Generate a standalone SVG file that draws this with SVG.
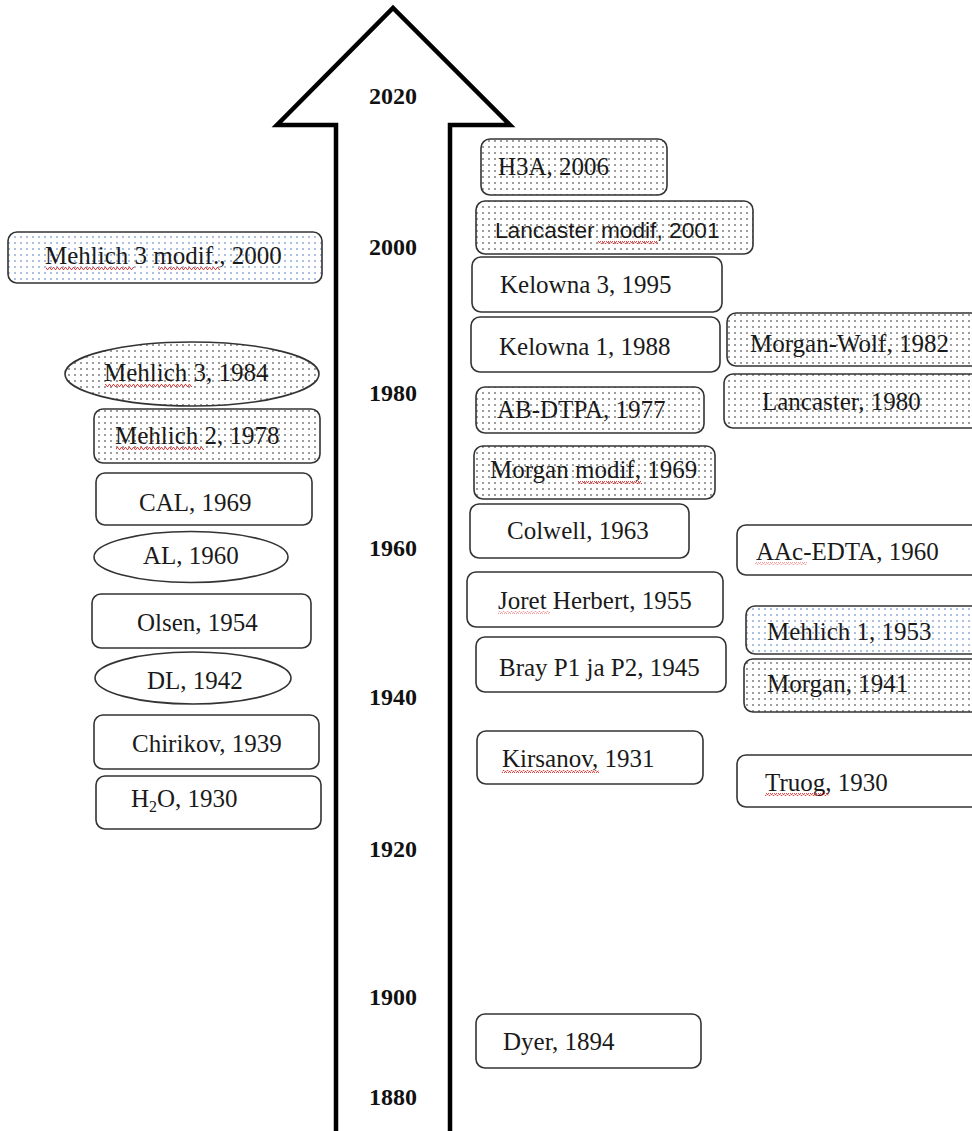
<svg xmlns="http://www.w3.org/2000/svg" width="972" height="1131" viewBox="0 0 972 1131">
<defs>
<pattern id="dotsK" width="6" height="6" patternUnits="userSpaceOnUse"><rect width="6" height="6" fill="#fff"/><circle cx="3" cy="3" r="0.8" fill="#222"/></pattern>
<pattern id="dotsB" width="6" height="6" patternUnits="userSpaceOnUse"><rect width="6" height="6" fill="#fff"/><circle cx="3" cy="3" r="0.8" fill="#4a72c0"/></pattern>
<pattern id="sq" width="4" height="3" patternUnits="userSpaceOnUse"><polyline points="0,2.5 1,0.5 2,0.5 3,2.5 4,2.5" fill="none" stroke="#e03030" stroke-width="0.9"/></pattern>
</defs>
<style>
.b{fill:#fff;stroke:#333;stroke-width:1.6}
.dk{fill:url(#dotsK);stroke:#333;stroke-width:1.6}
.db{fill:url(#dotsB);stroke:#333;stroke-width:1.6}
.t{font-family:"Liberation Serif","Times New Roman",serif;font-size:25px;fill:#1a1a1a}
.s{font-family:"Liberation Sans",Arial,sans-serif;font-size:22.7px;fill:#1a1a1a}
.y{font-family:"Liberation Serif","Times New Roman",serif;font-size:24px;font-weight:bold;fill:#111;text-anchor:middle}
.sq{fill:url(#sq)}
</style>
<rect width="972" height="1131" fill="#fff"/>
<g id="axis">
<path d="M336,1131 L336,125 L277,125 L393,8 L510,125 L450,125 L450,1131" fill="#fff" stroke="#000" stroke-width="4.5" stroke-linejoin="miter"/>
<text class="y" x="393" y="104">2020</text>
<text class="y" x="393" y="255">2000</text>
<text class="y" x="393" y="401">1980</text>
<text class="y" x="393" y="556">1960</text>
<text class="y" x="393" y="705">1940</text>
<text class="y" x="393" y="857">1920</text>
<text class="y" x="393" y="1005">1900</text>
<text class="y" x="393" y="1105">1880</text>
</g>
<g id="n-mehlich3modif"><rect class="db" x="8" y="232" width="314" height="51" rx="9"/><text class="t" x="45" y="264">Mehlich 3 modif., 2000</text></g>
<g id="n-mehlich3"><ellipse class="dk" cx="192" cy="374" rx="127" ry="32"/><text class="t" x="104" y="381">Mehlich 3, 1984</text></g>
<g id="n-mehlich2"><rect class="dk" x="94" y="409" width="226" height="54" rx="9"/><text class="t" x="115" y="444">Mehlich 2, 1978</text></g>
<g id="n-cal"><rect class="b" x="96" y="473" width="216" height="52" rx="9"/><text class="t" x="139" y="511">CAL, 1969</text></g>
<g id="n-al"><ellipse class="b" cx="191" cy="557" rx="97" ry="25.5"/><text class="t" x="143" y="564">AL, 1960</text></g>
<g id="n-olsen"><rect class="b" x="92" y="594" width="219" height="54" rx="9"/><text class="t" x="137" y="631">Olsen, 1954</text></g>
<g id="n-dl"><ellipse class="b" cx="193" cy="678" rx="98" ry="26"/><text class="t" x="147" y="689">DL, 1942</text></g>
<g id="n-chirikov"><rect class="b" x="94" y="715" width="225" height="54" rx="9"/><text class="t" x="132" y="752">Chirikov, 1939</text></g>
<g id="n-h2o"><rect class="b" x="96" y="776" width="225" height="53" rx="9"/><text class="t" x="131" y="807">H<tspan font-size="16" dy="5">2</tspan><tspan dy="-5">O, 1930</tspan></text></g>
<g id="n-h3a"><rect class="dk" x="481" y="139" width="186" height="56" rx="9"/><text class="t" x="498" y="175">H3A, 2006</text></g>
<g id="n-lancastermodif"><rect class="dk" x="476" y="201" width="277" height="53" rx="9"/><text class="s" x="495" y="238">Lancaster modif, 2001</text></g>
<g id="n-kelowna3"><rect class="b" x="472" y="257" width="250" height="55" rx="9"/><text class="t" x="500" y="293">Kelowna 3, 1995</text></g>
<g id="n-kelowna1"><rect class="b" x="471" y="317" width="249" height="55" rx="9"/><text class="t" x="499" y="355">Kelowna 1, 1988</text></g>
<g id="n-abdtpa"><rect class="dk" x="476" y="387" width="228" height="46" rx="9"/><text class="t" x="497" y="418">AB-DTPA, 1977</text></g>
<g id="n-morganmodif"><rect class="dk" x="474" y="446" width="241" height="53" rx="9"/><text class="t" x="490" y="478">Morgan modif, 1969</text></g>
<g id="n-colwell"><rect class="b" x="470" y="504" width="219" height="54" rx="9"/><text class="t" x="507" y="539">Colwell, 1963</text></g>
<g id="n-joret"><rect class="b" x="467" y="572" width="256" height="55" rx="9"/><text class="t" x="498" y="609">Joret Herbert, 1955</text></g>
<g id="n-bray"><rect class="b" x="476" y="637" width="250" height="55" rx="9"/><text class="t" x="499" y="676">Bray P1 ja P2, 1945</text></g>
<g id="n-kirsanov"><rect class="b" x="477" y="731" width="226" height="53" rx="9"/><text class="t" x="502" y="767">Kirsanov, 1931</text></g>
<g id="n-dyer"><rect class="b" x="476" y="1014" width="225" height="54" rx="9"/><text class="t" x="503" y="1050">Dyer, 1894</text></g>
<g id="n-morganwolf"><rect class="dk" x="727" y="313" width="255" height="53" rx="9"/><text class="t" x="750" y="352">Morgan-Wolf, 1982</text></g>
<g id="n-lancaster"><rect class="dk" x="724" y="374" width="258" height="54" rx="9"/><text class="t" x="762" y="410">Lancaster, 1980</text></g>
<g id="n-aacedta"><rect class="b" x="737" y="525" width="245" height="50" rx="9"/><text class="t" x="756" y="560">AAc-EDTA, 1960</text></g>
<g id="n-mehlich1"><rect class="db" x="746" y="606" width="236" height="48" rx="9"/><text class="t" x="767" y="640">Mehlich 1, 1953</text></g>
<g id="n-morgan"><rect class="dk" x="744" y="659" width="238" height="53" rx="9"/><text class="t" x="767" y="692">Morgan, 1941</text></g>
<g id="n-truog"><rect class="b" x="737" y="755" width="245" height="52" rx="9"/><text class="t" x="765" y="791">Truog, 1930</text></g>
<g id="spellcheck">
<rect class="sq" x="46" y="267" width="88" height="3"/>
<rect class="sq" x="158" y="267" width="62" height="3"/>
<rect class="sq" x="105" y="384" width="87" height="3"/>
<rect class="sq" x="116" y="447" width="88" height="3"/>
<rect class="sq" x="598" y="241" width="60" height="3"/>
<rect class="sq" x="578" y="481" width="64" height="3"/>
<rect class="sq" x="498" y="611" width="52" height="3" opacity="0.5"/>
<rect class="sq" x="502" y="770" width="97" height="3"/>
<rect class="sq" x="765" y="793" width="64" height="3"/>
<rect class="sq" x="755" y="562" width="52" height="3" opacity="0.5"/>
</g>
</svg>
